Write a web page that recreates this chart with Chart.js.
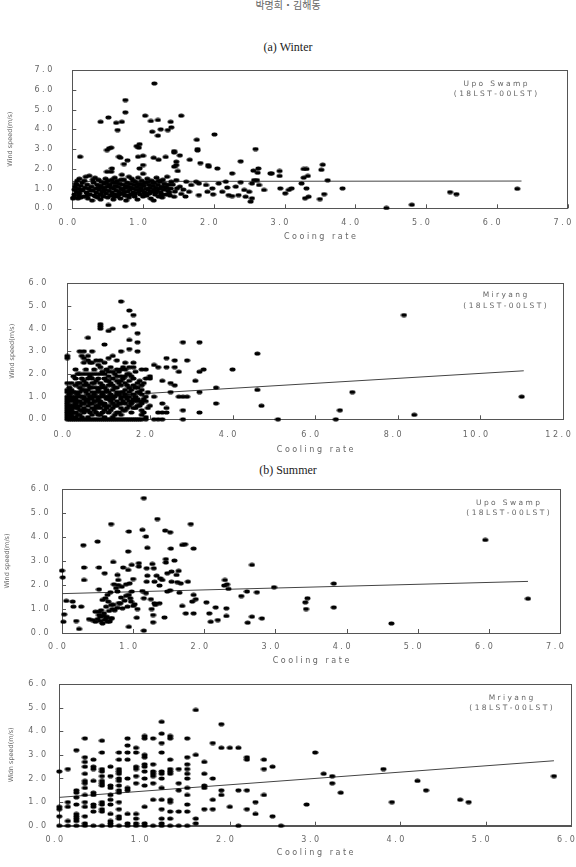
<!DOCTYPE html>
<html>
<head>
<meta charset="utf-8">
<script src="https://cdn.jsdelivr.net/npm/chart.js@4.4.1/dist/chart.umd.min.js"></script>
<style>
  body { margin: 0; background: #fff; width: 576px; height: 867px; position: relative; overflow: hidden; }
  .panel { position: absolute; left: 0; width: 576px; }
  .cap { position: absolute; left: 0; width: 576px; text-align: center; font-family: "Liberation Serif", serif; font-size: 12px; color: #222; }
</style>
</head>
<body>
<div class="cap" style="top:-3px;font-family:'Noto Sans CJK KR',sans-serif;font-size:10px;color:#666">박명희・김해동</div>
<div class="cap" style="top:40px">(a) Winter</div>
<div class="cap" style="top:463px">(b) Summer</div>
<div class="panel" style="top:60px;height:186px"><canvas id="c1"></canvas></div>
<div class="panel" style="top:273px;height:186px"><canvas id="c2"></canvas></div>
<div class="panel" style="top:479px;height:191px"><canvas id="c3"></canvas></div>
<div class="panel" style="top:674px;height:188px"><canvas id="c4"></canvas></div>
<script>
// (a) 겨울 - 우포늪 : [냉각률, 풍속]
const winterUpo = [
  [1.16,6.32],[0.75,5.48],[0.75,4.86],[0.40,4.38],[0.51,4.60],[0.62,4.33],[0.70,4.38],[0.64,3.96],
  [1.03,4.69],[1.11,4.42],[1.21,4.47],[1.13,3.88],[1.21,3.68],[1.25,4.00],[1.35,3.96],[1.39,4.38],
  [1.40,4.10],[1.54,4.69],[1.76,3.47],[2.01,3.74],[1.77,3.00],[1.77,2.93],[2.59,3.00],[0.91,3.15],
  [0.95,3.25],[0.94,3.07],[0.52,3.04],[0.55,3.07],[0.49,2.95],[0.11,2.61],[0.66,2.61],[0.68,2.56],
  [0.93,2.61],[1.00,2.66],[1.15,2.56],[1.22,2.46],[1.32,2.60],[1.44,2.90],[1.44,2.83],[1.52,2.68],
  [1.66,2.46],[1.81,2.29],[1.92,2.19],[1.93,2.11],[2.05,2.02],[2.38,2.38],[0.78,2.43],[0.73,2.24],
  [1.00,2.19],[0.95,2.02],[0.56,2.02],[0.49,1.85],[1.47,2.36],[1.47,2.19],[1.44,2.11],[1.49,1.89],
  [2.26,1.77],[2.56,1.91],[2.63,2.02],[2.62,1.80],[2.80,1.77],[2.93,1.89],[2.93,1.64],[3.27,1.99],
  [3.31,1.99],[3.27,1.55],[3.33,1.64],
  [0.01,0.50],[0.02,0.55],[0.03,0.95],[0.04,1.10],[0.05,1.25],[0.06,0.85],[0.07,1.40],[0.08,0.50],
  [0.09,1.00],[0.10,1.50],[0.10,0.75],[0.12,1.15],[0.12,0.55],[0.14,1.30],[0.15,0.95],[0.16,0.60],
  [0.18,1.05],[0.19,1.60],[0.20,0.80],[0.21,1.20],[0.22,0.50],[0.23,1.00],[0.24,1.65],[0.25,0.70],
  [0.27,1.10],[0.28,0.40],[0.29,0.90],[0.30,1.30],[0.31,0.65],[0.32,1.55],[0.33,1.00],[0.34,0.80],
  [0.35,1.20],[0.36,0.55],[0.37,1.45],[0.38,0.95],[0.39,0.70],[0.40,1.15],[0.40,0.45],[0.41,1.35],
  [0.42,0.85],[0.43,1.05],[0.44,0.60],[0.45,1.25],[0.46,0.95],[0.47,1.50],[0.48,0.75],[0.49,1.10],
  [0.50,0.55],[0.50,1.40],[0.51,0.17],[0.52,0.90],[0.53,1.20],[0.54,0.65],[0.55,1.85],[0.55,1.05],
  [0.56,0.80],[0.57,1.30],[0.58,0.45],[0.59,1.00],[0.60,1.55],[0.60,0.70],[0.61,1.15],[0.62,0.90],
  [0.63,1.40],[0.64,0.60],[0.65,1.10],[0.66,0.85],[0.67,1.25],[0.68,0.50],[0.69,1.00],[0.70,1.70],
  [0.70,0.75],[0.71,1.20],[0.72,0.95],[0.73,1.45],[0.74,0.65],[0.75,1.05],[0.76,0.40],[0.77,1.30],
  [0.78,0.85],[0.79,1.10],[0.80,1.60],[0.80,0.55],[0.81,0.95],[0.82,1.25],[0.83,0.70],[0.84,1.50],
  [0.85,1.00],[0.86,0.80],[0.87,1.20],[0.88,0.60],[0.89,1.35],[0.90,0.95],[0.91,1.10],[0.92,0.45],
  [0.93,1.55],[0.94,0.85],[0.95,1.20],[0.96,0.70],[0.97,1.05],[0.98,1.40],[0.99,0.90],[1.00,0.60],
  [1.00,1.75],[1.01,1.15],[1.02,0.80],[1.03,1.30],[1.04,1.00],[1.05,0.65],[1.06,1.50],[1.07,0.95],
  [1.08,1.20],[1.09,0.75],[1.10,1.05],[1.11,0.50],[1.12,1.40],[1.13,0.85],[1.14,1.15],[1.15,0.40],
  [1.15,0.95],[1.16,1.30],[1.17,0.70],[1.18,1.05],[1.19,1.55],[1.20,0.90],[1.21,1.20],[1.22,0.60],
  [1.23,1.00],[1.24,1.35],[1.25,0.80],[1.26,1.10],[1.27,0.55],[1.28,1.45],[1.29,0.95],[1.30,1.25],
  [1.32,0.70],[1.33,1.05],[1.34,1.60],[1.35,0.90],[1.36,1.20],[1.38,0.65],[1.39,1.00],[1.40,1.35],
  [0.03,0.70],[0.06,1.20],[0.09,0.60],[0.13,0.90],[0.17,1.40],[0.21,0.65],[0.26,0.90],[0.29,1.45],
  [0.33,0.60],[0.37,1.05],[0.41,0.70],[0.45,0.90],[0.48,1.30],[0.52,1.15],[0.56,1.45],[0.59,0.60],
  [0.62,1.30],[0.66,0.70],[0.69,1.45],[0.73,0.80],[0.76,1.15],[0.79,0.65],[0.83,1.05],[0.86,1.40],
  [0.89,0.75],[0.93,1.25],[0.96,0.95],[0.99,1.25],[1.03,0.70],[1.07,1.35],[1.10,0.85],[1.14,1.30],
  [1.18,0.80],[1.22,1.40],[1.26,0.70],[1.31,1.10],[1.37,0.80],[1.42,1.20],[1.45,0.85],[1.52,1.10],
  [1.57,0.95],[1.60,0.60],
  [1.47,1.43],[1.48,1.01],[1.44,0.59],[1.54,0.73],[1.61,1.35],[1.68,1.18],[1.65,0.84],[1.75,1.35],
  [1.79,1.26],[1.79,0.67],[1.89,1.18],[1.91,0.84],[1.98,1.01],[1.99,0.71],[2.07,1.26],[2.12,0.84],
  [2.17,1.35],[2.19,1.05],[2.21,0.67],[2.26,0.62],[2.31,1.10],[2.35,0.67],[2.38,1.32],[2.43,0.93],
  [2.45,0.59],[2.50,0.84],[2.54,1.26],[2.57,1.43],[2.54,0.51],[2.52,0.34],[2.61,1.43],[2.64,1.18],
  [2.71,0.93],[2.82,1.77],[2.94,1.01],[3.01,0.76],[3.06,0.93],[3.10,1.01],[3.24,1.26],[3.29,0.51],
  [3.34,0.59],[3.31,1.01],[3.54,2.21],[3.52,1.95],[3.61,1.42],[3.56,0.72],[3.50,0.47],[3.82,1.01],
  [4.44,0.02],[4.80,0.18],[5.34,0.82],[5.43,0.72],[6.29,0.99]
];
const winterUpoFit = [[0, 1.36], [6.35, 1.38]];

// (a) 겨울 - 밀양 : [냉각률, [풍속...]]
const winterMiryang = [
  [0.0,[2.8,2.7,1.6,1.3,1.2,1.0,0.9,0.8,0.7,0.6,0.5,0.4,0.3,0.2,0.1,0.0]],
  [0.05,[1.4,1.1,0.9,0.6,0.3,0.0]],
  [0.1,[1.6,1.3,1.2,1.0,0.8,0.6,0.5,0.4,0.2,0.1,0.0]],
  [0.15,[1.9,1.2,0.9,0.6,0.3,0.0]],
  [0.2,[2.2,1.8,1.5,1.2,1.0,0.9,0.8,0.7,0.6,0.5,0.3,0.1,0.0]],
  [0.25,[2.0,1.6,1.1,0.8,0.5,0.2,0.0]],
  [0.3,[3.0,2.0,1.6,1.4,1.2,1.0,0.8,0.6,0.4,0.2,0.0]],
  [0.35,[2.8,1.8,1.3,1.0,0.7,0.4,0.1,0.0]],
  [0.4,[3.0,2.7,2.5,2.0,1.7,1.5,1.3,1.0,0.9,0.7,0.5,0.3,0.0]],
  [0.45,[2.2,1.6,1.2,0.8,0.4,0.0]],
  [0.5,[3.6,2.8,2.6,2.0,1.8,1.5,1.3,1.1,0.9,0.8,0.6,0.4,0.1,0.0]],
  [0.55,[2.5,1.9,1.4,1.0,0.7,0.3,0.0]],
  [0.6,[3.0,2.5,2.0,1.8,1.6,1.4,1.2,1.0,0.9,0.7,0.5,0.2,0.0]],
  [0.65,[2.2,1.6,1.1,0.8,0.4,0.0]],
  [0.7,[2.6,2.0,1.7,1.4,1.2,1.0,0.8,0.6,0.5,0.3,0.0]],
  [0.75,[2.4,1.8,1.3,0.9,0.6,0.2,0.0]],
  [0.8,[4.2,4.1,4.0,2.6,2.3,2.0,1.6,1.4,1.2,1.0,0.8,0.7,0.5,0.2,0.0]],
  [0.85,[2.1,1.5,1.1,0.7,0.3,0.0]],
  [0.9,[3.3,2.5,2.0,1.8,1.4,1.2,1.0,0.7,0.6,0.4,0.1,0.0]],
  [0.95,[2.2,1.7,1.3,0.9,0.5,0.0]],
  [1.0,[3.9,2.7,2.1,1.9,1.7,1.5,1.2,1.0,0.9,0.6,0.3,0.0]],
  [1.05,[2.3,1.6,1.1,0.8,0.4,0.0]],
  [1.1,[4.0,2.8,2.1,1.8,1.5,1.3,1.0,0.9,0.7,0.5,0.1,0.0]],
  [1.15,[2.0,1.4,1.0,0.6,0.2,0.0]],
  [1.2,[2.6,2.2,1.9,1.7,1.4,1.2,1.1,0.8,0.6,0.3,0.0]],
  [1.25,[2.1,1.6,1.1,0.7,0.3,0.0]],
  [1.3,[5.2,3.0,2.2,1.9,1.7,1.5,1.2,1.0,0.9,0.7,0.5,0.2,0.0]],
  [1.35,[2.3,1.8,1.2,0.8,0.4,0.0]],
  [1.4,[4.1,2.5,2.2,1.9,1.6,1.3,1.1,1.0,0.7,0.4,0.0]],
  [1.45,[2.0,1.5,0.9,0.5,0.0]],
  [1.5,[4.8,3.5,3.1,2.3,2.0,1.7,1.4,1.2,1.0,0.8,0.6,0.0]],
  [1.55,[1.9,1.3,0.7,0.3,0.0]],
  [1.6,[4.6,4.2,2.5,2.3,1.8,1.5,1.1,0.9,0.8,0.5,0.0]],
  [1.65,[2.1,1.4,1.0,0.5,0.0]],
  [1.7,[3.8,3.4,3.0,1.6,1.4,1.2,0.9,0.8,0.6,0.0]],
  [1.75,[1.7,1.2,0.6,0.0]],
  [1.8,[2.2,1.5,1.3,1.1,0.8,0.7,0.4,0.2,0.0]],
  [1.85,[1.6,0.9,0.3]],
  [1.9,[2.2,1.8,1.0,0.8,0.1,0.0]],
  [1.95,[1.2,0.5]],
  [2.0,[1.9,1.8,0.6]],
  [2.1,[2.4,1.0,0.0]],
  [2.2,[2.3,0.3,0.0]],
  [2.3,[1.7,0.7,0.3,0.0]],
  [2.4,[2.7,2.3,0.5,0.3]],
  [2.5,[1.6,1.2]],
  [2.6,[2.6,2.3,1.5]],
  [2.7,[2.1,1.0]],
  [2.8,[3.4,1.0,0.4,0.0]],
  [2.9,[2.6,1.0]],
  [3.1,[1.7]],
  [3.2,[3.4,2.1,1.2,0.3]],
  [3.3,[2.2]],
  [3.6,[1.4,0.7]],
  [4.0,[2.2]],
  [4.6,[2.9,1.3]],
  [4.7,[0.6]],
  [5.1,[0.0]],
  [6.5,[0.0]],
  [6.6,[0.4]],
  [6.9,[1.2]],
  [8.15,[4.6]],
  [8.4,[0.2]],
  [11.0,[1.0]]
];
const winterMiryangFit = [[0, 0.93], [11.05, 2.14]];

// (b) 여름 - 우포늪
const summerUpo = [
  [1.15,5.62],[1.34,4.75],[0.69,4.54],[0.94,4.23],[1.13,4.30],[1.18,4.02],[1.45,4.27],[1.52,4.20],
  [1.81,4.54],[0.30,3.66],[0.50,3.81],[0.93,3.40],[1.20,3.55],[1.53,3.52],[1.69,3.67],[1.73,3.70],
  [1.85,3.52],[0.00,2.60],[0.01,2.32],[0.31,2.73],[0.31,2.21],[0.52,2.73],[0.52,1.82],[0.60,2.49],
  [0.72,2.96],[0.78,2.42],[0.79,2.21],[0.86,2.73],[0.93,2.63],[0.98,2.84],[1.08,2.91],[1.08,2.77],
  [1.19,2.70],[1.20,2.39],[1.27,2.88],[1.29,2.70],[1.33,2.39],[1.30,2.14],[1.19,2.14],[1.46,3.08],
  [1.46,2.94],[1.58,3.02],[1.48,2.49],[1.54,2.56],[1.38,2.28],[1.41,2.21],[1.37,1.98],[1.54,2.14],
  [1.61,2.42],[1.64,2.59],[1.62,2.12],[1.67,2.07],[1.77,2.14],[0.84,1.93],[0.79,2.00],[0.73,2.03],
  [0.90,2.03],[0.95,2.07],[1.00,2.25],
  [0.64,1.59],[0.68,1.70],[0.61,1.45],[0.57,1.38],[0.65,1.31],[0.69,1.17],[0.62,1.10],[0.71,1.00],
  [0.66,0.92],[0.52,0.89],[0.59,0.82],[0.54,0.68],[0.50,0.58],[0.47,0.47],[0.54,0.50],[0.38,0.58],
  [0.43,0.54],[0.62,0.61],[0.69,0.61],[0.57,0.40],[0.52,0.75],[0.47,0.89],[0.64,0.47],[0.06,1.34],
  [0.15,1.31],[0.27,1.10],[0.16,1.10],[0.03,0.78],[0.02,0.47],[0.20,0.50],[0.24,0.17],[0.76,1.87],
  [0.78,1.73],[0.83,1.48],[0.82,1.24],[0.85,1.03],[0.92,1.10],[0.94,1.59],[0.98,1.73],[0.97,1.31],
  [1.00,1.13],[1.06,1.00],[1.05,0.64],[0.94,0.26],[1.15,0.10],[1.13,1.75],[1.18,1.66],[1.15,1.45],
  [1.25,1.41],[1.30,1.24],[1.31,1.17],[1.37,1.24],[1.26,1.00],[1.28,0.75],[1.28,0.45],[1.44,0.65],
  [1.48,1.73],[1.52,1.78],[1.65,1.68],[1.69,1.13],[1.74,0.82],[1.85,0.82],[1.85,1.59],[1.88,1.41],
  [1.83,1.31],[0.55,0.95],[0.58,0.72],[0.60,0.55],[0.63,0.68],[0.67,0.48],[0.70,0.62],[0.72,1.18],
  [0.74,0.95],[0.78,1.05],[0.80,1.25],[0.88,1.35],[0.90,1.55],[0.96,1.45],[1.02,1.20],
  [2.03,1.28],[2.07,0.82],[2.09,0.47],[2.16,1.07],[2.19,0.54],[2.29,2.21],[2.32,2.03],[2.34,1.84],
  [2.28,1.98],[2.31,1.03],[2.31,0.71],[2.52,1.54],[2.60,1.73],[2.67,2.84],[2.67,0.68],[2.61,0.43],
  [2.74,1.70],[2.81,0.61],[2.98,1.91],[3.42,1.28],[3.45,1.45],[3.43,1.00],[3.82,2.06],[3.82,1.07],
  [4.63,0.40],[5.95,3.88],[6.55,1.43]
];
const summerUpoFit = [[0, 1.64], [6.55, 2.15]];

// (b) 여름 - 밀양
const summerMiryang = [
  [0.0,[2.3,0.8,0.7,0.4,0.0]],
  [0.1,[2.4,1.0,0.8,0.2,0.0]],
  [0.2,[3.2,1.5,1.4,1.2,0.9,0.5,0.4,0.3,0.2,0.0]],
  [0.3,[3.7,2.9,2.7,2.5,2.2,1.9,1.8,1.6,1.3,1.0,0.8,0.4,0.1,0.0]],
  [0.4,[2.8,2.5,2.4,1.9,1.4,1.3,0.9,0.8,0.6,0.0]],
  [0.5,[3.6,3.1,2.4,2.3,2.1,1.9,1.8,1.7,1.0,0.9,0.7,0.6,0.0]],
  [0.6,[2.5,2.1,1.7,1.6,1.3,1.1,0.9,0.5,0.2,0.1,0.0]],
  [0.7,[3.1,2.8,2.4,2.3,2.2,2.0,1.9,1.7,1.5,1.4,1.0,0.7,0.4,0.3,0.0]],
  [0.8,[3.7,3.4,3.1,2.8,2.0,1.6,1.5,0.5,0.1,0.0]],
  [0.9,[3.3,3.1,2.5,2.4,2.1,1.8,0.5,0.3,0.1,0.0]],
  [1.0,[3.8,3.7,3.0,2.9,2.6,2.5,2.3,2.0,1.7,0.8,0.1,0.0]],
  [1.1,[3.7,2.6,2.3,2.2,2.1,1.8,1.1,0.0]],
  [1.2,[4.4,3.9,3.5,3.1,2.3,2.2,2.0,1.6,1.1,0.7,0.3,0.1,0.0]],
  [1.3,[3.8,3.7,2.8,2.4,2.3,2.2,1.1,1.0,0.6,0.3,0.0]],
  [1.4,[2.4,1.8,1.5,0.6,0.0]],
  [1.5,[3.7,2.9,2.6,2.4,2.2,2.0,1.6,1.3,0.9,0.6,0.0]],
  [1.6,[4.9,3.0,0.3,0.1]],
  [1.7,[2.7,2.2,1.7,1.6,0.7]],
  [1.8,[3.5,2.0,1.1,0.7]],
  [1.9,[4.3,3.3,1.5,1.3]],
  [2.0,[3.3,0.8]],
  [2.1,[3.3,1.5,0.0]],
  [2.2,[2.9,2.8,1.5,0.7]],
  [2.3,[1.0,0.5]],
  [2.4,[2.8,2.4,1.3]],
  [2.5,[2.5,0.4]],
  [2.6,[0.0]],
  [2.9,[0.9]],
  [3.0,[3.1]],
  [3.1,[2.2]],
  [3.2,[2.1,1.8]],
  [3.3,[1.4]],
  [3.8,[2.4]],
  [3.9,[1.0]],
  [4.2,[1.9]],
  [4.3,[1.5]],
  [4.7,[1.1]],
  [4.8,[1.0]],
  [5.8,[2.1]]
];
const summerMiryangFit = [[0, 1.2], [5.8, 2.75]];

const FONT = "'DejaVu Sans', sans-serif";
const GREY = '#666';

// 글자 사이 띄우기 (원본처럼 "0 . 0")
function spaced(s) { return String(s).split('').join(' '); }
function fromPairs(list) { return list.map(p => ({ x: p[0], y: p[1] })); }
function fromCols(list) {
  const out = [];
  list.forEach(c => c[1].forEach(v => out.push({ x: c[0], y: v })));
  return out;
}

// 납작한 타원 점
const dot = document.createElement('canvas');
dot.width = 7; dot.height = 5;
(function () {
  const g = dot.getContext('2d');
  g.fillStyle = '#000';
  g.beginPath();
  g.ellipse(3.5, 2.5, 3.0, 2.0, 0, 0, Math.PI * 2);
  g.fill();
})();

// 테두리, 안쪽 눈금, 지점 표시
const framePlugin = {
  id: 'frame',
  beforeDatasetsDraw(chart) {
    const { ctx, chartArea: a, scales: { x, y } } = chart;
    ctx.save();
    ctx.strokeStyle = '#555';
    ctx.lineWidth = 1;
    ctx.strokeRect(Math.round(a.left) + 0.5, Math.round(a.top) + 0.5,
      Math.round(a.right - a.left), Math.round(a.bottom - a.top));
    ctx.beginPath();
    x.ticks.forEach(t => {
      const px = Math.round(x.getPixelForValue(t.value)) + 0.5;
      ctx.moveTo(px, a.bottom);
      ctx.lineTo(px, a.bottom - 4);
    });
    y.ticks.forEach(t => {
      const py = Math.round(y.getPixelForValue(t.value)) + 0.5;
      ctx.moveTo(a.left, py);
      ctx.lineTo(a.left + 4, py);
    });
    ctx.stroke();
    ctx.restore();
  },
  afterDatasetsDraw(chart, args, o) {
    const { ctx, chartArea: a } = chart;
    ctx.save();
    ctx.font = '7.5px ' + FONT;
    ctx.fillStyle = GREY;
    ctx.textAlign = 'center';
    ctx.textBaseline = 'middle';
    o.lines.forEach((s, i) => ctx.fillText(spaced(s), a.right - o.dx, a.top + o.dy + i * 10.5));
    ctx.restore();
  }
};

function makePanel(p) {
  const ctx = document.getElementById(p.id).getContext('2d');
  return new Chart(ctx, {
    type: 'scatter',
    data: {
      datasets: [
        {
          data: p.points,
          pointStyle: dot,
          pointRadius: 3,
          pointHoverRadius: 3,
          clip: false
        },
        {
          data: fromPairs(p.fit),
          showLine: true,
          borderColor: '#444',
          borderWidth: 1,
          pointRadius: 0,
          clip: false
        }
      ]
    },
    options: {
      responsive: true,
      maintainAspectRatio: false,
      animation: false,
      layout: { padding: { top: p.padTop, right: p.padRight, left: 0, bottom: 0 } },
      plugins: {
        legend: { display: false },
        tooltip: { enabled: false },
        frame: { lines: p.note, dx: p.noteDx, dy: p.noteDy }
      },
      scales: {
        x: {
          type: 'linear',
          min: 0,
          max: p.xMax,
          afterFit: s => { s.height = p.xAxisH; s.paddingLeft = 0; s.paddingRight = 0; },
          border: { display: true, color: '#555' },
          grid: { display: false, drawTicks: false },
          ticks: {
            stepSize: p.xStep,
            autoSkip: false,
            maxRotation: 0,
            padding: p.xLabelPad,
            labelOffset: -5,
            color: GREY,
            font: { family: FONT, size: 8 },
            callback: v => spaced(v.toFixed(1))
          },
          title: {
            display: true,
            text: spaced(p.xTitle),
            color: GREY,
            font: { family: FONT, size: 8 },
            padding: { top: 0, bottom: 4 }
          }
        },
        y: {
          type: 'linear',
          min: 0,
          max: p.yMax,
          afterFit: s => { s.width = p.yAxisW; s.paddingTop = 0; s.paddingBottom = 0; },
          border: { display: true, color: '#555' },
          grid: { display: false, drawTicks: false },
          ticks: {
            stepSize: 1,
            padding: p.yLabelPad,
            color: GREY,
            font: { family: FONT, size: 8 },
            callback: v => spaced(v.toFixed(1))
          },
          title: {
            display: true,
            text: p.yTitle,
            color: GREY,
            font: { family: FONT, size: 6.5 },
            padding: { top: p.yTitlePad, bottom: 0 }
          }
        }
      }
    },
    plugins: [framePlugin]
  });
}

makePanel({
  id: 'c1', points: fromPairs(winterUpo), fit: winterUpoFit,
  xMax: 7, xStep: 1, yMax: 7,
  xTitle: 'Cooing rate', yTitle: 'Wind speed(m/s)', note: ['Upo Swamp', '(18LST-00LST)'],
  padTop: 10, padRight: 8.5, yAxisW: 72.3, xAxisH: 37.7, xLabelPad: 10, yLabelPad: 20, yTitlePad: 6,
  noteDx: 72, noteDy: 14
});
makePanel({
  id: 'c2', points: fromCols(winterMiryang), fit: winterMiryangFit,
  xMax: 12, xStep: 2, yMax: 6,
  xTitle: 'Cooling rate', yTitle: 'Wind speed(m/s)', note: ['Miryang', '(18LST-00LST)'],
  padTop: 10.3, padRight: 13, yAxisW: 67.3, xAxisH: 39.7, xLabelPad: 10.5, yLabelPad: 21, yTitlePad: 8,
  noteDx: 58, noteDy: 12
});
makePanel({
  id: 'c3', points: fromPairs(summerUpo), fit: summerUpoFit,
  xMax: 7, xStep: 1, yMax: 6,
  xTitle: 'Cooling rate', yTitle: 'Wind speed(m/s)', note: ['Upo Swamp', '(18LST-00LST)'],
  padTop: 10, padRight: 16, yAxisW: 62, xAxisH: 37, xLabelPad: 9.5, yLabelPad: 13.5, yTitlePad: 3.4,
  noteDx: 52, noteDy: 14
});
makePanel({
  id: 'c4', points: fromCols(summerMiryang), fit: summerMiryangFit,
  xMax: 6, xStep: 1, yMax: 6,
  xTitle: 'Cooling rate', yTitle: 'Widn speed(m/s)', note: ['Mriyang', '(18LST-00LST)'],
  padTop: 10, padRight: 5, yAxisW: 59.3, xAxisH: 36.3, xLabelPad: 9.5, yLabelPad: 13.3, yTitlePad: 7.8,
  noteDx: 60, noteDy: 14
});
</script>
</body>
</html>
